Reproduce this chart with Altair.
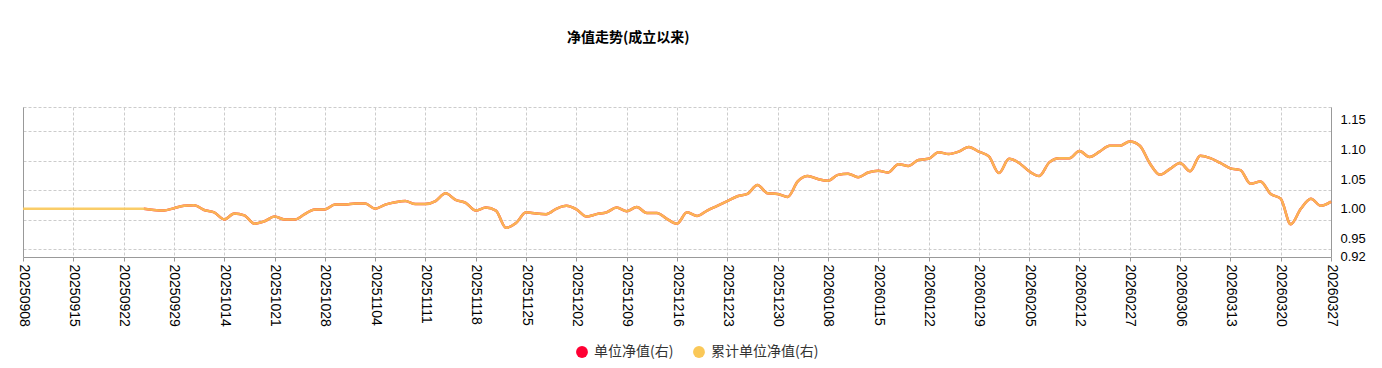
import altair as alt
import pandas as pd

# ---- data ----
tick_labels = [
    "20250908", "20250915", "20250922", "20250929", "20251014", "20251021",
    "20251028", "20251104", "20251111", "20251118", "20251125", "20251202",
    "20251209", "20251216", "20251223", "20251230", "20260108", "20260115",
    "20260122", "20260129", "20260205", "20260212", "20260227", "20260306",
    "20260313", "20260320", "20260327",
]

cum_nav = [
    1.000, 1.000, 1.000, 1.000, 1.000, 1.000, 1.000, 1.000, 1.000, 1.000,
    1.000, 1.000, 1.000, 0.998, 0.997, 1.001, 1.005, 1.006, 0.998, 0.994,
    0.982, 0.992, 0.989, 0.975, 0.979, 0.987, 0.982, 0.982, 0.991, 0.999,
    0.999, 1.007, 1.007, 1.009, 1.009, 1.000, 1.007, 1.011, 1.013, 1.008,
    1.008, 1.013, 1.026, 1.015, 1.010, 0.997, 1.002, 0.997, 0.968, 0.976,
    0.994, 0.992, 0.991, 1.000, 1.005, 0.999, 0.987, 0.991, 0.994, 1.002,
    0.996, 1.003, 0.993, 0.993, 0.983, 0.975, 0.994, 0.988, 0.997, 1.005,
    1.013, 1.021, 1.025, 1.040, 1.026, 1.025, 1.020, 1.046, 1.055, 1.050,
    1.047, 1.057, 1.059, 1.053, 1.061, 1.064, 1.061, 1.075, 1.072, 1.082,
    1.084, 1.095, 1.092, 1.096, 1.104, 1.096, 1.088, 1.060, 1.084, 1.077,
    1.063, 1.055, 1.078, 1.085, 1.085, 1.097, 1.087, 1.096, 1.106, 1.106,
    1.113, 1.106, 1.076, 1.057, 1.067, 1.077, 1.063, 1.089, 1.085, 1.077,
    1.068, 1.065, 1.042, 1.046, 1.025, 1.017, 0.974, 1.000, 1.017, 1.005,
    1.012,
]
unit_start = 12  # unit NAV series begins here

series_names = ["单位净值(右)", "累计单位净值(右)"]
series_colors = ["#FF0033", "#FAC858"]

y_label_values = [0.92, 0.95, 1.00, 1.05, 1.10, 1.15]
y_grid_values = [0.933, 0.981, 1.031, 1.081, 1.131, 1.171]
y_domain = [0.919, 1.171]

# ---- build table ----
rows = []
for i, v in enumerate(cum_nav):
    if i >= unit_start:
        rows.append({"i": i, "v": v, "s": series_names[0]})
    rows.append({"i": i, "v": v, "s": series_names[1]})
df = pd.DataFrame(rows)

n_last = len(cum_nav) - 1
step = n_last // (len(tick_labels) - 1)
label_expr = "[" + ",".join("'%s'" % t for t in tick_labels) + "][round(datum.value/%d)]" % step

x_enc = alt.X(
    "i:Q",
    scale=alt.Scale(domain=[0, n_last], nice=False, zero=False),
    axis=alt.Axis(
        values=list(range(0, n_last + 1, step)),
        labelExpr=label_expr,
        labelAngle=90,
        labelAlign="left",
        labelBaseline="middle",
        labelFontSize=14,
        labelFont="Liberation Sans",
        labelColor="#000000",
        labelPadding=3,
        labelOverlap=False,
        labelFlush=False,
        tickSize=4,
        tickColor="#999999",
        domainColor="#999999",
        grid=True,
        gridColor="#cccccc",
        gridDash=[3, 2],
        title=None,
    ),
)

y_scale = alt.Scale(domain=y_domain, nice=False, zero=False)

base = alt.Chart(df)

red_line = base.transform_filter(alt.datum.s == series_names[0]).mark_line(
    strokeWidth=2.5, interpolate="monotone", color=series_colors[0]
).encode(
    x=x_enc,
    y=alt.Y(
        "v:Q",
        scale=y_scale,
        axis=alt.Axis(
            orient="left", values=y_grid_values, grid=True, labels=False,
            ticks=False, domain=True, domainColor="#999999",
            gridColor="#cccccc", gridDash=[3, 2], title=None,
        ),
    ),
)

yellow_line = base.transform_filter(alt.datum.s == series_names[1]).mark_line(
    strokeWidth=2.5, opacity=0.9, interpolate="monotone", color=series_colors[1]
).encode(
    x=x_enc,
    y=alt.Y(
        "v:Q",
        scale=y_scale,
        axis=alt.Axis(
            orient="right", values=y_label_values, format=".2f", grid=False,
            ticks=False, domain=True, domainColor="#999999",
            labelFontSize=13, labelFont="Liberation Sans", labelColor="#000000",
            labelPadding=9, labelBaseline="middle", title=None,
        ),
    ),
)

# invisible points that only carry the legend (filled circles)
legend_points = base.mark_point(filled=True, opacity=0, size=1).encode(
    x=x_enc,
    y=alt.Y("v:Q", scale=y_scale, axis=None),
    color=alt.Color(
        "s:N",
        scale=alt.Scale(domain=series_names, range=series_colors),
        legend=alt.Legend(
            orient="none",
            legendX=552,
            legendY=238,
            direction="horizontal",
            title=None,
            symbolType="circle",
            symbolSize=140,
            symbolStrokeWidth=0,
            symbolOpacity=1,
            labelFontSize=14,
            labelFont="Noto Sans CJK SC",
            labelColor="#333333",
            labelOffset=5,
            columnPadding=18,
            padding=0,
        ),
    ),
)

chart = alt.layer(red_line, yellow_line, legend_points).resolve_scale(y="independent").properties(
    width=1308,
    height=150,
    autosize=alt.AutoSizeParams(type="none"),
    padding={"left": 15, "top": 99, "right": 40, "bottom": 103},
    title=alt.TitleParams(
        "净值走势(成立以来)",
        anchor="start",
        frame="group",
        dx=544,
        offset=62,
        fontSize=14,
        font="Noto Sans CJK SC",
        fontWeight="bold",
        color="#000000",
    ),
).configure_view(strokeWidth=0)

chart.save("out.html", embed_options={"renderer": "svg", "actions": False})
